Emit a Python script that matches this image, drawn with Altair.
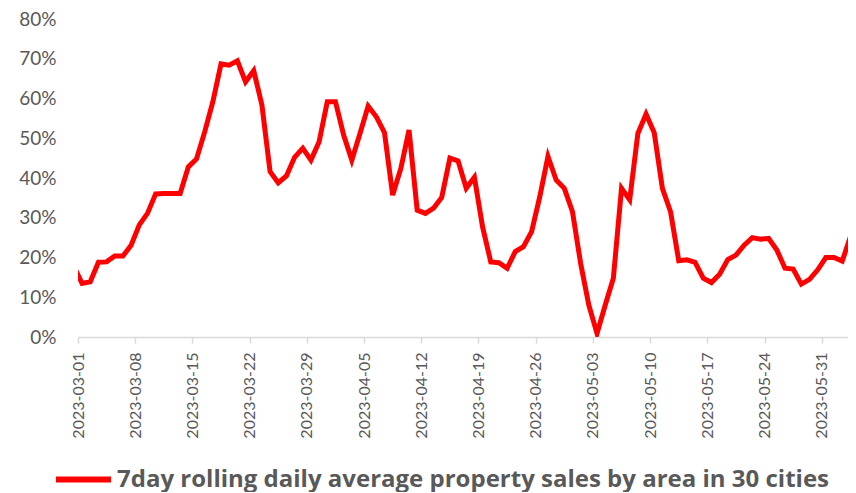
import altair as alt
import pandas as pd

# 7-day rolling daily average property sales by area in 30 cities (percent)
start_date = "2023-02-28"
values = [
    17.7,                                                   # 02-28
    13.5, 13.9, 18.8, 18.9, 20.4, 20.4, 23.1,               # 03-01 .. 03-07
    28.2, 31.1, 36.0, 36.1, 36.1, 36.1, 42.8,               # 03-08 .. 03-14
    44.8, 51.6, 59.2, 68.7, 68.4, 69.5, 64.2,               # 03-15 .. 03-21
    67.0, 58.4, 41.6, 38.8, 40.5, 45.2, 47.5,               # 03-22 .. 03-28
    44.5, 49.1, 59.2, 59.2, 50.8, 44.5, 51.2,               # 03-29 .. 04-04
    58.1, 55.4, 51.4, 35.7, 42.4, 52.1, 31.9,               # 04-05 .. 04-11
    31.1, 32.4, 35.1, 45.0, 44.3, 37.4, 40.2,               # 04-12 .. 04-18
    27.7, 18.9, 18.7, 17.3, 21.5, 22.7, 26.5,               # 04-19 .. 04-25
    35.3, 45.4, 39.5, 37.4, 31.5, 18.5, 8.0,                # 04-26 .. 05-02
    0.9, 8.0, 14.8, 37.4, 34.5, 51.2, 56.1,                 # 05-03 .. 05-09
    51.4, 37.4, 31.5, 19.2, 19.4, 18.8, 14.8,               # 05-10 .. 05-16
    13.7, 15.8, 19.5, 20.6, 23.1, 25.0, 24.6,               # 05-17 .. 05-23
    24.8, 21.9, 17.3, 17.1, 13.3, 14.5, 16.9,               # 05-24 .. 05-30
    20.0, 20.0, 19.1, 25.2, 32.0,                           # 05-31 .. 06-04
]
tick_dates = ["2023-03-01", "2023-03-08", "2023-03-15", "2023-03-22", "2023-03-29",
              "2023-04-05", "2023-04-12", "2023-04-19", "2023-04-26", "2023-05-03",
              "2023-05-10", "2023-05-17", "2023-05-24", "2023-05-31"]
y_ticks = [0, 0.1, 0.2, 0.3, 0.4, 0.5, 0.6, 0.7, 0.8]
series_name = "7day rolling daily average property sales by area in 30 cities"

dates = pd.date_range(start_date, periods=len(values), freq="D")
df = pd.DataFrame({
    "date": dates.strftime("%Y-%m-%d"),
    "value": [v / 100 for v in values],
    "series": series_name,
})


def dt(s, hours=0):
    y, m, d = (int(p) for p in s.split("-"))
    out = {"year": y, "month": m, "date": d, "utc": True}
    if hours:
        out["hours"] = hours
    return out


label_color = "#595959"
axis_color = "#d9d9d9"

chart = alt.Chart(df).mark_line(strokeWidth=5, clip=True).encode(
    x=alt.X(
        "date:T",
        timeUnit="utcyearmonthdate",
        bandPosition=0.5,
        scale=alt.Scale(type="utc", domain=[dt("2023-03-01"), dt("2023-06-03", 5)], nice=False),
        axis=alt.Axis(
            title=None,
            values=[dt(s) for s in tick_dates],
            labelExpr="utcFormat(datum.value, '%Y-%m-%d')",
            labelAngle=270,
            labelFont="Lato",
            labelFontSize=16,
            labelColor=label_color,
            labelPadding=9,
            domainColor=axis_color,
            domainWidth=1.5,
            tickColor=axis_color,
            tickWidth=1.5,
            tickSize=6,
            grid=False,
            labelOverlap=False,
        ),
    ),
    y=alt.Y(
        "value:Q",
        scale=alt.Scale(domain=[0, 0.8], nice=False),
        axis=alt.Axis(
            title=None,
            values=y_ticks,
            format=".0%",
            labelFont="Lato",
            labelFontSize=19,
            labelColor=label_color,
            labelPadding=22,
            domain=False,
            ticks=False,
            grid=False,
        ),
    ),
    color=alt.Color(
        "series:N",
        scale=alt.Scale(range=["#ff0000"]),
        legend=alt.Legend(
            title=None,
            orient="none",
            legendX=-25,
            legendY=430,
            symbolType="stroke",
            symbolSize=3025,
            symbolStrokeWidth=6,
            labelFont="Open Sans",
            labelFontSize=24,
            labelFontWeight="bold",
            labelColor=label_color,
            labelLimit=0,
            labelOffset=3,
            padding=0,
        ),
    ),
).properties(
    width=770,
    height=318,
    padding={"left": 70, "top": 11, "right": 0, "bottom": 155},
    autosize=alt.AutoSizeParams(type="none"),
).configure_view(stroke=None)

chart.save("out.html", embed_options={"renderer": "svg", "actions": False})
